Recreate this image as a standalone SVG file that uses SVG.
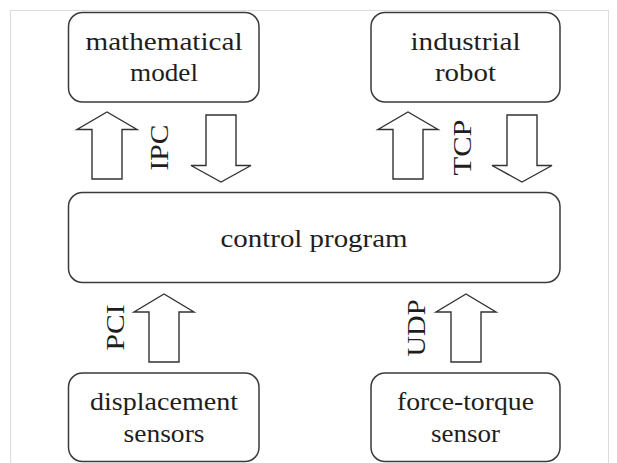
<svg xmlns="http://www.w3.org/2000/svg" width="617" height="463" viewBox="0 0 617 463">
  <style>
    .frame { fill: none; stroke: #dcdcdc; stroke-width: 1; }
    .box { fill: #ffffff; stroke: #3a3a3a; stroke-width: 1.5; }
    .arrow { fill: #ffffff; stroke: #333333; stroke-width: 1.4; stroke-linejoin: miter; }
    .label { font-family: "Liberation Serif", "Times New Roman", serif; font-size: 26px; fill: #1e1e1e; text-anchor: middle; }
  </style>
  <rect width="617" height="463" fill="#ffffff"/>
  <rect class="frame" x="10.5" y="10.5" width="598" height="470"/>

  <!-- links between blocks: wide hollow arrows with protocol labels -->
  <g id="connectors">
    <polygon class="arrow" points="92,179 92,129.5 77,129.5 107,112 137,129.5 122,129.5 122,179"/>
    <polygon class="arrow" points="206,115 236,115 236,165.5 251,165.5 221,182 191,165.5 206,165.5"/>
    <text class="label" transform="translate(167.5,147.5) rotate(-90)" textLength="46" lengthAdjust="spacingAndGlyphs">IPC</text>

    <polygon class="arrow" points="393,179 393,129.5 378,129.5 408,112 438,129.5 423,129.5 423,179"/>
    <polygon class="arrow" points="507,115 537,115 537,165.5 552,165.5 522,182 492,165.5 507,165.5"/>
    <text class="label" transform="translate(471,147.5) rotate(-90)" textLength="56" lengthAdjust="spacingAndGlyphs">TCP</text>

    <polygon class="arrow" points="149,362 149,312 134,312 164,294 194,312 179,312 179,362"/>
    <text class="label" transform="translate(123.5,327.5) rotate(-90)" textLength="46" lengthAdjust="spacingAndGlyphs">PCI</text>

    <polygon class="arrow" points="451,362 451,312 436,312 466,294 496,312 481,312 481,362"/>
    <text class="label" transform="translate(425,328) rotate(-90)" textLength="57" lengthAdjust="spacingAndGlyphs">UDP</text>
  </g>

  <g id="mathematical-model">
    <rect class="box" x="68.5" y="12.5" width="190.5" height="89.5" rx="14"/>
    <text class="label" x="164" y="49.5" textLength="157" lengthAdjust="spacingAndGlyphs">mathematical</text>
    <text class="label" x="164" y="81" textLength="68" lengthAdjust="spacingAndGlyphs">model</text>
  </g>

  <g id="industrial-robot">
    <rect class="box" x="371" y="12.5" width="189" height="89.5" rx="14"/>
    <text class="label" x="465.5" y="49.5" textLength="110" lengthAdjust="spacingAndGlyphs">industrial</text>
    <text class="label" x="465.5" y="81" textLength="61" lengthAdjust="spacingAndGlyphs">robot</text>
  </g>

  <g id="control-program">
    <rect class="box" x="68.5" y="192.5" width="491.5" height="90" rx="14"/>
    <text class="label" x="314" y="246.5" textLength="187" lengthAdjust="spacingAndGlyphs">control program</text>
  </g>

  <g id="displacement-sensors">
    <rect class="box" x="68.5" y="373" width="190.5" height="88.5" rx="14"/>
    <text class="label" x="164" y="410" textLength="148" lengthAdjust="spacingAndGlyphs">displacement</text>
    <text class="label" x="164" y="441.5" textLength="81" lengthAdjust="spacingAndGlyphs">sensors</text>
  </g>

  <g id="force-torque-sensor">
    <rect class="box" x="371" y="373" width="189" height="88.5" rx="14"/>
    <text class="label" x="465.5" y="410" textLength="137" lengthAdjust="spacingAndGlyphs">force-torque</text>
    <text class="label" x="465.5" y="441.5" textLength="69" lengthAdjust="spacingAndGlyphs">sensor</text>
  </g>
</svg>
